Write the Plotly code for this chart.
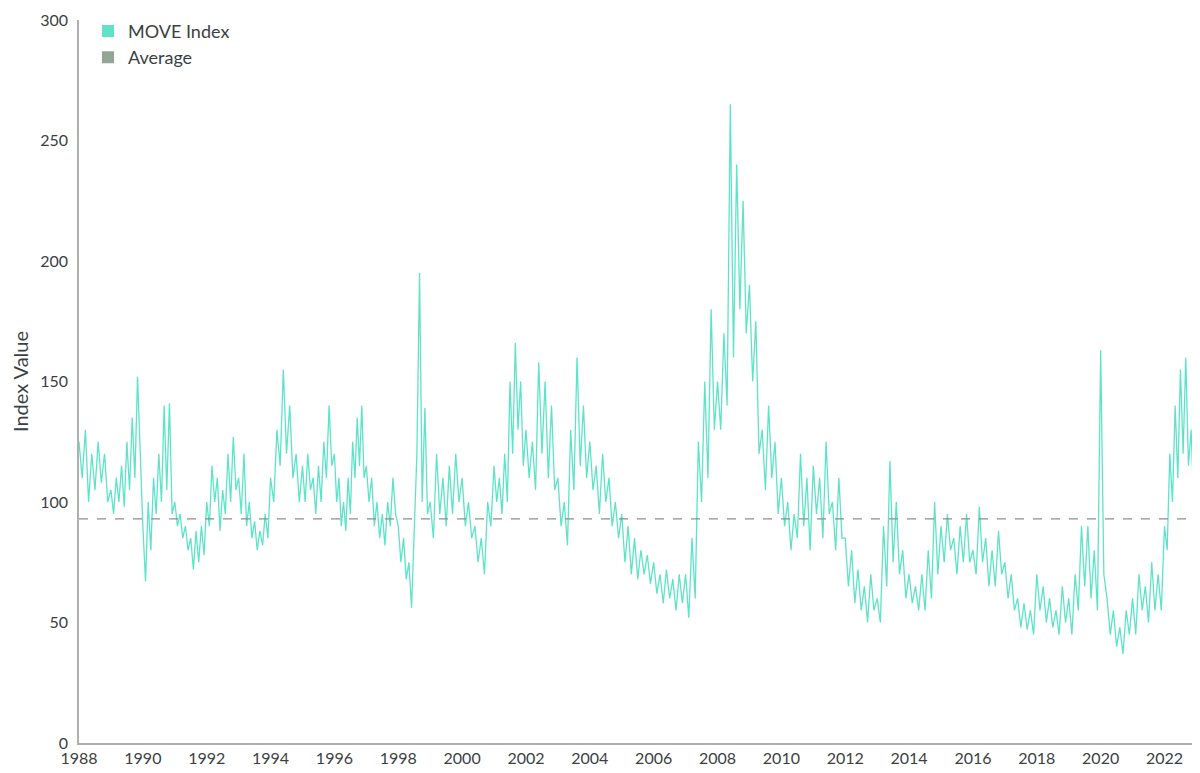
import numpy as np
import plotly.graph_objects as go

years = list(range(1988, 2024))
values_by_year = [
    [125, 110, 130, 100, 120, 105, 125, 108, 120, 100],
    [105, 95, 110, 100, 115, 98, 125, 105, 135, 110, 152, 120],
    [90, 67, 100, 80, 110, 95, 120, 100, 140, 105, 141, 95],
    [100, 90, 95, 85, 90, 80, 85, 72, 88, 75, 90, 78],
    [100, 90, 115, 100, 110, 88, 105, 95, 120, 100, 127, 105],
    [110, 95, 120, 90, 100, 85, 92, 80, 88, 82, 95, 85],
    [110, 100, 130, 115, 155, 120, 140, 110, 120, 100],
    [115, 100, 120, 105, 110, 95, 115, 100, 125, 110, 140, 115],
    [120, 100, 110, 90, 100, 88, 110, 95, 125, 110, 135, 115, 140, 110],
    [115, 100, 110, 90, 100, 85, 95, 82, 100, 90, 110, 95],
    [90, 75, 85, 68, 75, 56, 90, 120, 195, 100, 139, 95],
    [100, 85, 120, 95, 110, 90, 115, 95, 120, 100],
    [110, 90, 100, 85, 90, 75, 85, 70, 100, 90],
    [115, 100, 110, 95, 120, 100, 150, 120, 166, 130, 150, 115],
    [130, 110, 125, 105, 158, 120, 150, 110, 140, 105],
    [110, 90, 100, 82, 130, 105, 160, 115, 140, 110],
    [125, 105, 115, 95, 120, 100, 110, 90, 100, 85],
    [95, 75, 90, 70, 85, 68, 80, 70, 78, 66],
    [75, 62, 70, 58, 72, 60, 68, 55, 70, 58],
    [70, 52, 85, 60, 125, 100, 150, 110, 180, 130],
    [150, 130, 170, 140, 265, 160, 240, 180, 225, 170],
    [190, 150, 175, 120, 130, 105, 140, 110, 125, 95],
    [110, 90, 100, 80, 95, 85, 120, 90, 110, 80],
    [115, 95, 110, 85, 125, 95, 100, 80, 110, 85],
    [85, 65, 80, 58, 72, 55, 65, 50, 70, 55],
    [60, 50, 90, 65, 117, 75, 100, 70, 80, 60],
    [70, 58, 65, 55, 70, 55, 80, 60, 100, 70],
    [90, 75, 95, 80, 85, 70, 90, 75, 95, 75],
    [80, 70, 98, 75, 85, 65, 80, 65, 88, 70],
    [75, 60, 70, 55, 60, 48, 58, 47, 55, 45],
    [70, 55, 65, 50, 60, 48, 55, 45, 65, 50],
    [60, 45, 70, 55, 90, 65, 90, 60, 80, 55],
    [163, 70, 60, 45, 55, 40, 48, 37, 55, 45],
    [60, 45, 70, 55, 65, 50, 75, 55, 70, 55],
    [90, 80, 120, 100, 140, 110, 155, 120, 160, 115, 130, 100],
    [125, 199, 120, 155, 118],
]
average = 93
year_span = {2023: 0.3}
tick_years = list(range(1988, 2024, 2))

x, y = [], []
for yr, vals in zip(years, values_by_year):
    span = year_span.get(yr, 1.0)
    x += list(yr + np.arange(len(vals)) * span / len(vals))
    y += vals

fig = go.Figure()
fig.add_trace(go.Scatter(x=x, y=y, mode="lines", name="MOVE Index", showlegend=False,
                         line=dict(color="#5ee3c8", width=1.3)))
fig.add_trace(go.Scatter(x=[1988, 2023.3], y=[average, average], mode="lines", showlegend=False,
                         name="Average", line=dict(color="#8a8f8a", width=1.2, dash="dash")))
# legend swatches as squares
fig.add_trace(go.Scatter(x=[None], y=[None], mode="markers", name="MOVE Index",
                         marker=dict(symbol="square", size=11, color="#5ee3c8")))
fig.add_trace(go.Scatter(x=[None], y=[None], mode="markers", name="Average",
                         marker=dict(symbol="square", size=11, color="#93a595")))

fig.update_layout(
    width=1200, height=773, plot_bgcolor="white", paper_bgcolor="white",
    margin=dict(l=71, r=2, t=12, b=38),
    font=dict(family="Lato", size=16, color="#3a3f45"),
    legend=dict(x=0.008, y=1.01, xanchor="left", yanchor="top",
                bgcolor="rgba(0,0,0,0)", font=dict(size=18), itemsizing="constant",
                tracegroupgap=0),
    xaxis=dict(range=[1988, 2023.3], tickvals=tick_years, ticktext=[str(t) for t in tick_years],
               showgrid=False, zeroline=False, showline=True, linecolor="#b0b0b0",
               linewidth=1.5, ticks="", automargin=False),
    yaxis=dict(range=[0, 300], tickvals=list(range(0, 301, 50)), showgrid=False,
               zeroline=False, showline=True, linecolor="#b0b0b0", linewidth=1.5,
               ticks="", title=dict(text="Index Value", font=dict(size=20), standoff=14),
               ticklabelstandoff=6, automargin=False),
)
fig.write_html("out.html")
